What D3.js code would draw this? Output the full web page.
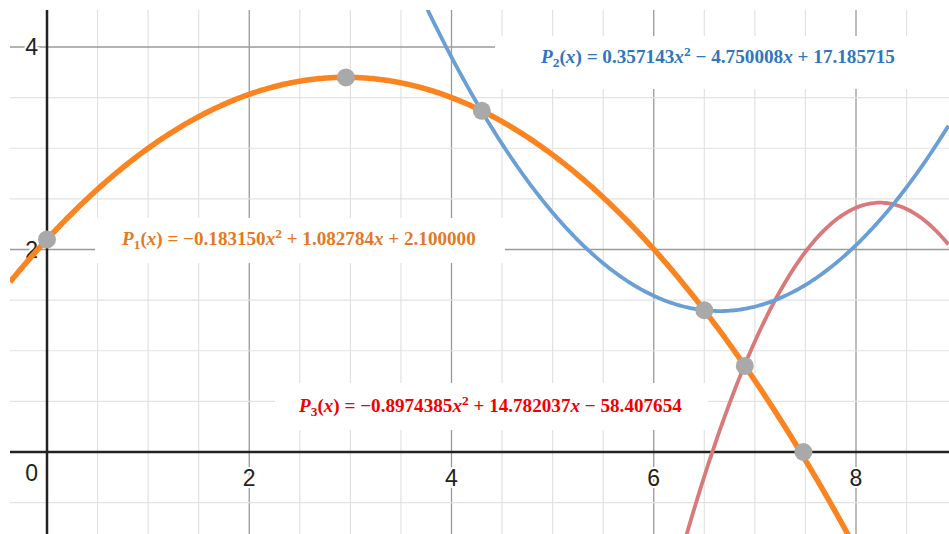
<!DOCTYPE html>
<html>
<head>
<meta charset="utf-8">
<script src="https://cdn.jsdelivr.net/npm/d3@7"></script>
<style>
  body { margin: 0; background: #fff; }
  svg { display: block; }
</style>
</head>
<body>
<div id="chart"></div>
<script>
// quadratic coefficients [a, b, c] for a*x^2 + b*x + c
var p1Coef = [-0.183150, 1.082784, 2.100000];
var p2Coef = [0.357143, -4.750008, 17.185715];
var p3Coef = [-0.8974385, 14.782037, -58.407654];

// highlighted points
var pointX = [0, 2.956, 4.3, 6.5, 6.9, 7.48];
var pointY = [2.1, 3.7, 3.37, 1.4, 0.85, 0];

var xTickLabels = [2, 4, 6, 8];
var yTickLabels = [2, 4];

var w = 949, h = 534,
    padL = 10, padT = 10;

var x = d3.scaleLinear().domain([0, 8]).range([47, 856]),
    y = d3.scaleLinear().domain([0, 4]).range([452, 47]);

var svg = d3.select('#chart').append('svg')
    .attr('width', w)
    .attr('height', h);

svg.append('clipPath').attr('id', 'plotClip')
  .append('rect')
    .attr('x', padL).attr('y', padT)
    .attr('width', w - padL).attr('height', h - padT);

var plot = svg.append('g').attr('clip-path', 'url(#plotClip)');

var xMin = x.invert(padL), xMax = x.invert(w),
    yMin = y.invert(h), yMax = y.invert(padT);

var minorX = d3.range(Math.ceil(xMin * 2) / 2, xMax, 0.5),
    minorY = d3.range(Math.ceil(yMin * 2) / 2, yMax, 0.5);

function isMajor(v) { return Math.abs(v / 2 - Math.round(v / 2)) < 1e-6 && v !== 0; }

// grid
plot.selectAll('.vgrid').data(minorX.filter(function (d) { return d !== 0; }))
  .enter().append('line')
    .attr('x1', function (d) { return x(d); }).attr('x2', function (d) { return x(d); })
    .attr('y1', padT).attr('y2', h)
    .attr('stroke', function (d) { return isMajor(d) ? '#9a9a9a' : '#e2e2e2'; })
    .attr('stroke-width', function (d) { return isMajor(d) ? 1.3 : 1.2; });

plot.selectAll('.hgrid').data(minorY.filter(function (d) { return d !== 0; }))
  .enter().append('line')
    .attr('y1', function (d) { return y(d); }).attr('y2', function (d) { return y(d); })
    .attr('x1', padL).attr('x2', w)
    .attr('stroke', function (d) { return isMajor(d) ? '#9a9a9a' : '#e2e2e2'; })
    .attr('stroke-width', function (d) { return isMajor(d) ? 1.3 : 1.2; });

// axes
plot.append('line')
    .attr('x1', padL).attr('x2', w).attr('y1', y(0)).attr('y2', y(0))
    .attr('stroke', '#222').attr('stroke-width', 2.5);
plot.append('line')
    .attr('x1', x(0)).attr('x2', x(0)).attr('y1', padT).attr('y2', h)
    .attr('stroke', '#222').attr('stroke-width', 2.5);

// tick labels
var tickFont = '"Liberation Sans", Arial, sans-serif';
function tickText(g) {
  g.attr('font-family', tickFont)
   .attr('font-size', 23)
   .attr('fill', '#222')
   .attr('stroke', '#fff')
   .attr('stroke-width', 4)
   .attr('paint-order', 'stroke');
}

plot.selectAll('.xlab').data(xTickLabels).enter().append('text')
    .attr('x', function (d) { return x(d); })
    .attr('y', y(0) + 34)
    .attr('text-anchor', 'middle')
    .text(function (d) { return d; })
    .call(tickText);

plot.selectAll('.ylab').data(yTickLabels).enter().append('text')
    .attr('x', x(0) - 9)
    .attr('y', function (d) { return y(d) + 8; })
    .attr('text-anchor', 'end')
    .text(function (d) { return d; })
    .call(tickText);

plot.append('text')
    .attr('x', x(0) - 9)
    .attr('y', y(0) + 29)
    .attr('text-anchor', 'end')
    .text('0')
    .call(tickText);

// curves
function quad(c) {
  return function (v) { return c[0] * v * v + c[1] * v + c[2]; };
}
var xs = d3.range(xMin, xMax + 0.01, 0.02);
var line = d3.line()
    .x(function (d) { return x(d[0]); })
    .y(function (d) { return y(d[1]); });

var curves = [
  { coef: p3Coef, color: '#d9797a', width: 3.8 },
  { coef: p2Coef, color: '#699fd5', width: 3.8 },
  { coef: p1Coef, color: '#fb8420', width: 5.5 }
];

curves.forEach(function (c) {
  var f = quad(c.coef);
  var pts = xs.map(function (v) { return [v, f(v)]; })
      .filter(function (d) { return d[1] > yMin - 3 && d[1] < yMax + 3; });
  plot.append('path')
      .datum(pts)
      .attr('fill', 'none')
      .attr('stroke', c.color)
      .attr('stroke-width', c.width)
      .attr('stroke-linejoin', 'round')
      .attr('d', line);
});

// points
plot.selectAll('.pt').data(pointX).enter().append('circle')
    .attr('cx', function (d) { return x(d); })
    .attr('cy', function (d, i) { return y(pointY[i]); })
    .attr('r', 9)
    .attr('fill', '#a9a9a9');

// equation labels on white boxes
var labels = [
  { box: [495, 36, 460, 53], tx: 541, ty: 63, width: 354, color: '#2e77c0',
    parts: [['P', 'bi'], ['2', 'sub'], ['(', ''], ['x', 'bi'], [') = 0.357143', ''], ['x', 'bi'], ['2', 'sup'],
            [' \u2212 4.750008', ''], ['x', 'bi'], [' + 17.185715', '']] },
  { box: [95, 218, 410, 45], tx: 122, ty: 245, width: 354, color: '#e5791f',
    parts: [['P', 'bi'], ['1', 'sub'], ['(', ''], ['x', 'bi'], [') = \u22120.183150', ''], ['x', 'bi'], ['2', 'sup'],
            [' + 1.082784', ''], ['x', 'bi'], [' + 2.100000', '']] },
  { box: [275, 383, 433, 47], tx: 299, ty: 412, width: 383, color: '#f00000',
    parts: [['P', 'bi'], ['3', 'sub'], ['(', ''], ['x', 'bi'], [') = \u22120.8974385', ''], ['x', 'bi'], ['2', 'sup'],
            [' + 14.782037', ''], ['x', 'bi'], [' \u2212 58.407654', '']] }
];

labels.forEach(function (l) {
  svg.append('rect')
      .attr('x', l.box[0]).attr('y', l.box[1])
      .attr('width', l.box[2]).attr('height', l.box[3])
      .attr('fill', '#fff');

  var t = svg.append('text')
      .attr('x', l.tx).attr('y', l.ty)
      .attr('font-family', '"Liberation Serif", "DejaVu Serif", serif')
      .attr('font-weight', 'bold')
      .attr('font-size', 18.5)
      .attr('fill', l.color)
      .style('white-space', 'pre');

  l.parts.forEach(function (p, i) {
    var prev = i > 0 ? l.parts[i - 1][1] : '';
    var shift = 0;
    if (prev === 'sub') shift -= 4;
    if (prev === 'sup') shift += 7;
    if (p[1] === 'sub') shift += 4;
    if (p[1] === 'sup') shift -= 7;
    var s = t.append('tspan').text(p[0]).attr('dy', shift);
    if (p[1] === 'bi') s.attr('font-style', 'italic');
    if (p[1] === 'sub' || p[1] === 'sup') s.attr('font-size', 13);
  });

  // squeeze to the measured width of the reference label
  var bw = t.node().getComputedTextLength();
  var sx = l.width / bw;
  t.attr('transform', 'translate(' + l.tx + ',0) scale(' + sx + ',1) translate(' + (-l.tx) + ',0)');
});
</script>
</body>
</html>
